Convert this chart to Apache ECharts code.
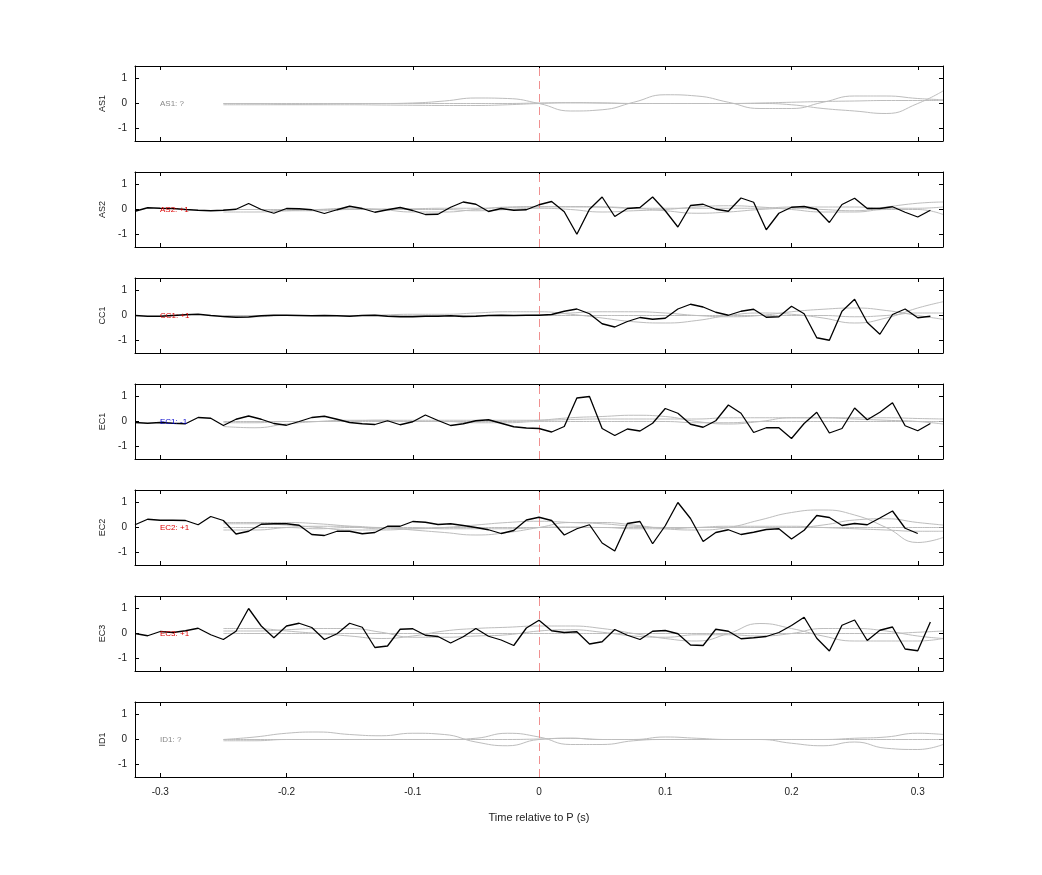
<!DOCTYPE html>
<html><head><meta charset="utf-8">
<script src="https://cdn.jsdelivr.net/npm/echarts@6/dist/echarts.min.js"></script>
<style>html,body{margin:0;padding:0;background:#fff}#c{width:1042px;height:875px}</style>
</head><body><div id="c"></div>
<script>
const stations = ["AS1","AS2","CC1","EC1","EC2","EC3","ID1"];
const stationLabels = ["AS1: ?","AS2: +1","CC1: +1","EC1: -1","EC2: +1","EC3: +1","ID1: ?"];
const labelColors = ["#888888","#dd0000","#dd0000","#0000cc","#dd0000","#dd0000","#888888"];
const xTicks = [-0.3,-0.2,-0.1,0,0.1,0.2,0.3];
const yTicks = [-1,0,1];
const blackStart = -0.32;
const blackAS2 = [-0.07,0.07,0.05,0.04,0,-0.03,-0.05,-0.03,0.01,0.24,0,-0.15,0.04,0.03,-0.01,-0.16,-0.01,0.13,0.04,-0.11,-0.01,0.08,-0.04,-0.2,-0.19,0.09,0.3,0.21,-0.08,0.04,-0.03,-0.01,0.19,0.32,-0.09,-0.99,0.01,0.5,-0.28,0.04,0.08,0.5,-0.05,-0.7,0.16,0.21,0.01,-0.07,0.46,0.29,-0.81,-0.15,0.09,0.12,0.01,-0.52,0.2,0.45,0.04,0.04,0.11,-0.11,-0.3,-0.03];
const blackCC1 = [0,-0.03,-0.03,0,0.03,0.05,0,-0.04,-0.07,-0.06,-0.01,0.01,0.01,0,-0.01,0,-0.01,-0.03,0,0.01,-0.03,-0.05,-0.05,-0.03,-0.03,-0.01,-0.04,-0.03,0,0.01,0,0.01,0.01,0.04,0.17,0.26,0.07,-0.33,-0.46,-0.24,-0.08,-0.15,-0.11,0.26,0.45,0.34,0.13,0.01,0.17,0.25,-0.07,-0.05,0.37,0.07,-0.89,-0.99,0.17,0.65,-0.28,-0.75,0.04,0.26,-0.09,-0.03];
const blackEC1 = [-0.04,-0.07,-0.04,-0.07,-0.09,0.16,0.13,-0.16,0.09,0.22,0.09,-0.08,-0.15,0,0.16,0.21,0.09,-0.04,-0.09,-0.12,0.03,-0.13,-0.01,0.26,0.04,-0.16,-0.09,0.03,0.07,-0.07,-0.21,-0.26,-0.28,-0.42,-0.2,0.94,1.0,-0.28,-0.56,-0.3,-0.38,-0.07,0.52,0.33,-0.11,-0.23,0.03,0.66,0.33,-0.44,-0.25,-0.25,-0.68,-0.08,0.37,-0.46,-0.28,0.54,0.07,0.37,0.75,-0.17,-0.37,-0.08];
const blackEC2 = [0.11,0.33,0.29,0.29,0.28,0.11,0.44,0.28,-0.26,-0.15,0.13,0.15,0.15,0.09,-0.28,-0.32,-0.15,-0.15,-0.25,-0.2,0.05,0.05,0.24,0.21,0.12,0.15,0.08,0,-0.09,-0.24,-0.12,0.3,0.41,0.28,-0.3,-0.05,0.11,-0.62,-0.94,0.16,0.24,-0.65,0.07,1.0,0.36,-0.56,-0.2,-0.09,-0.28,-0.19,-0.08,-0.05,-0.46,-0.11,0.48,0.4,0.08,0.16,0.11,0.38,0.66,-0.03,-0.24];
const blackEC3 = [0,-0.09,0.08,0.04,0.11,0.21,-0.05,-0.24,0.09,1.0,0.3,-0.17,0.3,0.41,0.24,-0.24,-0.01,0.41,0.25,-0.56,-0.5,0.17,0.19,-0.07,-0.12,-0.38,-0.13,0.2,-0.11,-0.26,-0.48,0.22,0.53,0.11,0.04,0.07,-0.42,-0.33,0.16,-0.07,-0.24,0.09,0.12,-0.01,-0.46,-0.48,0.17,0.09,-0.21,-0.17,-0.12,0.04,0.32,0.65,-0.19,-0.7,0.33,0.54,-0.28,0.13,0.26,-0.62,-0.69,0.46];
const blacks = [null,blackAS2,blackCC1,blackEC1,blackEC2,blackEC3,null];
const grayT = [-0.25,-0.225,-0.2,-0.175,-0.15,-0.125,-0.1,-0.075,-0.05,-0.025,0,0.025,0.05,0.075,0.1,0.125,0.15,0.175,0.2,0.225,0.25,0.275,0.3,0.32];
const grayAS1 = [
 [0,0,-0.03,-0.02,0,0,0.02,0.1,0.22,0.2,0,-0.3,-0.25,0.05,0.35,0.3,0.05,-0.2,-0.2,0.05,0.3,0.3,0.2,0.15],
 [-0.05,-0.05,-0.05,-0.05,-0.05,-0.06,-0.07,-0.08,-0.08,-0.05,0,0.03,0.02,0,0,0,0,0,-0.05,-0.2,-0.3,-0.4,0,0.5],
 [0,0,0,0,0,0,0,0,0,0,0.02,0.03,0.02,0,0,0,0,0.02,0.05,0.08,0.1,0.12,0.12,0.12]];
const grayAS2 = [
 [-0.1,-0.1,-0.05,0,0.05,0,-0.1,-0.1,0,0.1,0.12,0.1,0.1,0.05,-0.05,-0.15,-0.1,0,0.05,0,-0.05,0.1,0.25,0.3],
 [0,0,-0.05,-0.05,0,0,0,0,-0.05,0,0.05,0,-0.1,-0.05,0,0.1,0.15,0.1,0,-0.1,-0.1,0,0,-0.2],
 [0,0,0,0,0,0.02,0.03,0.05,0.05,0.08,0.1,0.12,0.1,0.05,0.05,0.05,0.05,0.05,0.1,0.1,0.1,0.05,0.05,0.1]];
const grayCC1 = [
 [-0.05,-0.05,0,0,0,0.02,0.05,0.05,0.1,0.15,0.15,0.05,-0.1,-0.25,-0.3,-0.2,0,0.1,0.05,-0.1,-0.3,-0.1,0.3,0.55],
 [0,0,0,0,0,0,0,0,0,0,0.02,0.1,0.15,0.15,0.1,0,-0.05,0,0.15,0.25,0.3,0.2,0,-0.15],
 [0,0,0,0,0,0,0,0,0,0,0,0,0,0,0,0,0,0,0,0,-0.05,0,0.1,0.1]];
const grayEC1 = [
 [-0.2,-0.25,-0.1,0,0.05,0.05,0,0,0,0,0.05,0.15,0.2,0.25,0.2,0,-0.1,0,0.15,0.15,0.1,0.05,0,-0.1],
 [-0.05,-0.05,0,0,0.02,0.05,0.05,0.05,0.05,0.05,0.05,0.08,0.1,0.1,0.1,0.1,0.15,0.15,0.15,0.15,0.15,0.15,0.12,0.1],
 [0,0,0,0,0,0,0,0,-0.05,-0.05,0,0,0,0,0,-0.05,-0.05,0,0,0,0,0,0,0]];
const grayEC2 = [
 [0,0,0,-0.05,0,0,-0.1,-0.2,-0.3,-0.2,0,0.2,0.2,0.1,-0.05,-0.1,0,0.3,0.6,0.7,0.5,0,-0.6,-0.4],
 [0.2,0.2,0.2,0.15,0.05,-0.05,-0.05,0,0.1,0.2,0.25,0.2,0.15,0.05,0,0,0,0,0,0.1,0.3,0.35,0.2,0.1],
 [-0.1,-0.1,0,0.05,0.05,0,0,-0.05,-0.05,-0.05,0,0.02,0,0,0,0,0,0,0,0,0,0,0,0],
 [0.15,0.15,0.1,0,-0.1,-0.1,-0.05,0,0,0,0,0,0,-0.05,-0.05,0,0.05,0.05,0.05,0,-0.05,-0.1,-0.15,-0.15]];
const grayEC3 = [
 [0.2,0.2,0.1,0,-0.1,-0.2,-0.1,0.1,0.2,0.25,0.3,0.3,0.2,0,-0.2,-0.3,0,0.4,0.2,-0.1,-0.3,-0.3,-0.3,-0.2],
 [0.1,0.1,0.15,0.2,0.2,0.05,-0.15,-0.15,-0.1,-0.05,0.1,0.15,0.05,-0.1,-0.15,-0.05,-0.05,-0.1,0,0.2,0.2,0.1,-0.1,-0.2],
 [0,0,0,0,0,0,0,0,0,0,0,0,0,0,0,0,0,0,0,0,0,0,0.05,0.1]];
const grayID1 = [
 [0,0.1,0.25,0.3,0.2,0.15,0.25,0.2,-0.1,-0.25,0,0.05,0,0,0,0,0,0,0,0,0,0,0,0],
 [0,0,0,0,0,0,0,0,0.05,0.25,0.1,-0.2,-0.2,-0.05,0,0,0,0,-0.15,-0.25,-0.1,-0.35,-0.4,-0.2],
 [-0.05,-0.05,0,0,0,0,0,0,0,0,0.02,0.05,0,0,0.1,0.05,0,0,0,0,0.05,0.1,0.25,0.2]];
const grays = [grayAS1,grayAS2,grayCC1,grayEC1,grayEC2,grayEC3,grayID1];

const FONT = "Liberation Sans";
const tops = [66,172,278,384,490,596,702];
const grid=[],xAxis=[],yAxis=[],series=[],graphic=[];
tops.forEach((t,i)=>{
  grid.push({left:135,width:808,top:t,height:75});
  const last = i===tops.length-1;
  xAxis.push({type:'value',gridIndex:i,min:-0.32,max:0.32,
    axisLine:{onZero:false,lineStyle:{color:'#000'}},
    axisTick:{inside:true,length:4,customValues:xTicks,lineStyle:{color:'#000'}},
    axisLabel:{show:last,customValues:xTicks,color:'#222',fontFamily:FONT,fontSize:10,margin:10,formatter:v=>String(Math.round(v*10)/10)},
    splitLine:{show:false},
    name:last?'Time relative to P (s)':'',nameLocation:'middle',nameGap:35,nameTextStyle:{color:'#222',fontFamily:FONT,fontSize:11}});
  xAxis.push({type:'value',gridIndex:i,position:'top',min:-0.32,max:0.32,
    axisLine:{onZero:false,lineStyle:{color:'#000'}},
    axisTick:{inside:true,length:4,customValues:xTicks,lineStyle:{color:'#000'}},
    axisLabel:{show:false},splitLine:{show:false}});
  yAxis.push({type:'value',gridIndex:i,min:-1.5,max:1.5,
    axisLine:{show:true,onZero:false,lineStyle:{color:'#000'}},
    axisTick:{show:true,inside:true,length:4,customValues:yTicks,lineStyle:{color:'#000'}},
    axisLabel:{customValues:yTicks,color:'#222',fontFamily:FONT,fontSize:10,margin:8},
    splitLine:{show:false},
    name:stations[i],nameLocation:'middle',nameGap:27,nameRotate:90,nameTextStyle:{color:'#222',fontFamily:FONT,fontSize:9}});
  yAxis.push({type:'value',gridIndex:i,position:'right',min:-1.5,max:1.5,
    axisLine:{show:true,onZero:false,lineStyle:{color:'#000'}},
    axisTick:{show:true,inside:true,length:4,customValues:yTicks,lineStyle:{color:'#000'}},
    axisLabel:{show:false},splitLine:{show:false}});
  grays[i].forEach((g,j)=>{
    series.push({type:'line',xAxisIndex:2*i,yAxisIndex:2*i,smooth:0.5,symbol:'none',silent:true,
      lineStyle:{color:'#bdbdbd',width:1},data:g.map((v,k)=>[grayT[k],v]),
      markLine:j===0?{silent:true,symbol:'none',label:{show:false},lineStyle:{color:'#f09090',type:[8,5],width:1},data:[{xAxis:0}]}:undefined});
  });
  if(blacks[i]){
    series.push({type:'line',xAxisIndex:2*i,yAxisIndex:2*i,symbol:'none',silent:true,z:5,
      lineStyle:{color:'#000',width:1.3},data:blacks[i].map((v,k)=>[Math.round((blackStart+0.01*k)*100)/100,v])});
  }
  graphic.push({type:'text',left:160,top:t+34,z:10,style:{text:stationLabels[i],fill:labelColors[i],font:'8px '+FONT}});
});
const chart = echarts.init(document.getElementById('c'));
chart.setOption({animation:false,backgroundColor:'#fff',grid,xAxis,yAxis,series,graphic});
</script></body></html>
